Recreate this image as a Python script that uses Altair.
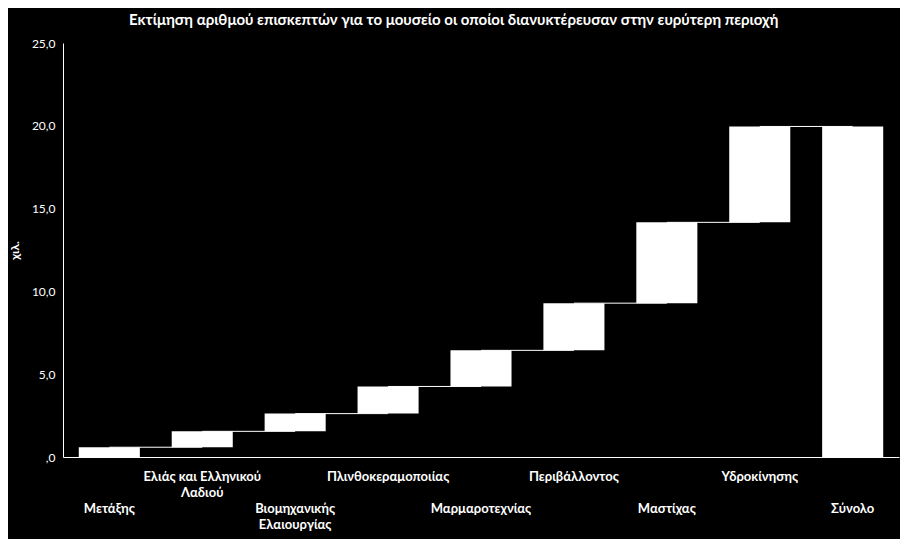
import json
import altair as alt
import pandas as pd

title_text = "Εκτίμηση αριθμού επισκεπτών για το μουσείο οι οποίοι διανυκτέρευσαν στην ευρύτερη περιοχή"
y_title = "χιλ."

categories = ["Μετάξης", "Ελιάς και Ελληνικού Λαδιού", "Βιομηχανικής Ελαιουργίας",
              "Πλινθοκεραμοποιίας", "Μαρμαροτεχνίας", "Περιβάλλοντος", "Μαστίχας",
              "Υδροκίνησης", "Σύνολο"]
label_lines = [["Μετάξης"], ["Ελιάς και Ελληνικού", "Λαδιού"], ["Βιομηχανικής", "Ελαιουργίας"],
               ["Πλινθοκεραμοποιίας"], ["Μαρμαροτεχνίας"], ["Περιβάλλοντος"], ["Μαστίχας"],
               ["Υδροκίνησης"], ["Σύνολο"]]
increments = [0.59, 0.96, 1.07, 1.64, 2.18, 2.85, 4.88, 5.79]
y_ticks = [0, 5, 10, 15, 20, 25]

# build waterfall table
rows = []
level = 0.0
for cat, inc in zip(categories[:-1], increments):
    rows.append({"cat": cat, "start": level, "end": level + inc})
    level += inc
rows.append({"cat": categories[-1], "start": 0.0, "end": level})
df = pd.DataFrame(rows)

conn = pd.DataFrame({
    "cat": categories[:-1],
    "next": categories[1:],
    "level": df["end"].iloc[:-1].tolist(),
})

label_map = {c: lines for c, lines in zip(categories, label_lines)}
label_expr = f"{json.dumps(label_map, ensure_ascii=False)}[datum.value]"
cats_js = json.dumps(categories, ensure_ascii=False)
lower_row_test = f"indexof({cats_js}, datum.value) % 2 == 0"

FONT = "Lato"

xscale = alt.Scale(domain=categories, paddingInner=0.343, paddingOuter=0.17)
yscale = alt.Scale(domain=[0, 25], nice=False)

xaxis = alt.Axis(title=None, ticks=False, labelAngle=0,
                 labelPadding={"condition": {"test": lower_row_test, "value": 45}, "value": 13},
                 labelExpr=label_expr, labelLineHeight=16, labelFontWeight="bold",
                 labelFont=FONT, labelFontSize=13, labelColor="white",
                 domainColor="white", labelBaseline="top", labelOverlap=False)
yaxis = alt.Axis(title=y_title, values=y_ticks, ticks=False, grid=False,
                 labelExpr="datum.value == 0 ? ',0' : replace(format(datum.value, '.1f'), '.', ',')",
                 labelFont=FONT, labelFontSize=12, labelColor="white", labelPadding=8,
                 domainColor="white", titleColor="white", titleFont=FONT,
                 titleFontSize=12, titleFontWeight="bold", titlePadding=10)

rules = alt.Chart(conn).mark_rule(color="white", strokeWidth=1).encode(
    x=alt.X("cat:N", scale=xscale, axis=xaxis, sort=categories),
    x2="next:N",
    y=alt.Y("level:Q", scale=yscale, axis=yaxis),
)

bars = alt.Chart(df).mark_bar(color="white").encode(
    x=alt.X("cat:N", scale=xscale, axis=xaxis, sort=categories),
    y=alt.Y("start:Q", scale=yscale, axis=yaxis),
    y2="end:Q",
)

chart = alt.layer(rules, bars).properties(
    width=836, height=414,
    title=alt.TitleParams(title_text, color="white", font=FONT, fontSize=15,
                          fontWeight="bold", anchor="middle", frame="bounds", offset=9),
    padding={"left": 55, "top": 35, "right": 1, "bottom": 82},
    autosize=alt.AutoSizeParams(type="none"),
).configure(background="black").configure_view(stroke=None)

chart.save("out.html", embed_options={"renderer": "svg", "actions": False})
